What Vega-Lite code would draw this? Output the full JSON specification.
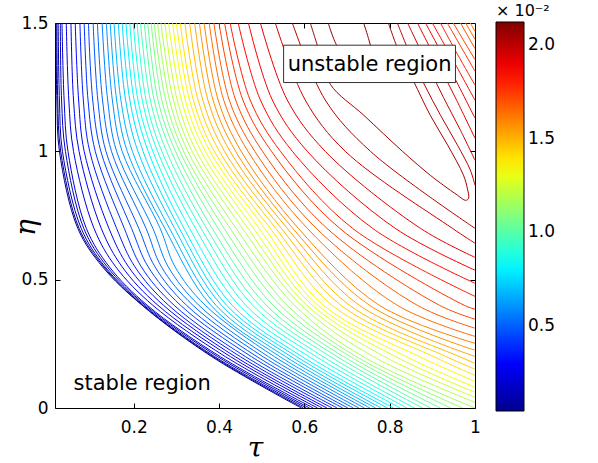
{
"$schema":"https://vega.github.io/schema/vega-lite/v6.json",
"autosize":"none","width":420,"height":385,
"padding":{"left":55,"top":23,"right":123,"bottom":55},
"background":"white",
"config":{"view":{"stroke":"black","strokeWidth":1},
"axis":{"labelFont":"DejaVu Sans","labelFontSize":17,"labelColor":"black","tickColor":"black","tickWidth":1,"domain":false,"grid":false,"labelFlush":false,"titleFont":"DejaVu Serif","titleFontStyle":"italic","titleFontWeight":"normal","titleFontSize":28,"titleColor":"black"}},
"resolve":{"axis":{"x":"independent","y":"independent"}},
"layer":[
{"data":{"values":[
{"line":1,"level":0.04,"k":1,"tau":0.018,"eta":1.5},{"line":1,"level":0.04,"k":2,"tau":0.020,"eta":1.2},{"line":1,"level":0.04,"k":3,"tau":0.026,"eta":1.0},{"line":1,"level":0.04,"k":4,"tau":0.069,"eta":0.7},{"line":1,"level":0.04,"k":5,"tau":0.127,"eta":0.55},{"line":1,"level":0.04,"k":6,"tau":0.220,"eta":0.4},{"line":1,"level":0.04,"k":7,"tau":0.383,"eta":0.2},{"line":1,"level":0.04,"k":8,"tau":0.593,"eta":0},
{"line":2,"level":0.08,"k":1,"tau":0.020,"eta":1.5},{"line":2,"level":0.08,"k":2,"tau":0.022,"eta":1.2},{"line":2,"level":0.08,"k":3,"tau":0.029,"eta":1.0},{"line":2,"level":0.08,"k":4,"tau":0.072,"eta":0.7},{"line":2,"level":0.08,"k":5,"tau":0.130,"eta":0.55},{"line":2,"level":0.08,"k":6,"tau":0.221,"eta":0.4},{"line":2,"level":0.08,"k":7,"tau":0.386,"eta":0.2},{"line":2,"level":0.08,"k":8,"tau":0.598,"eta":0},
{"line":3,"level":0.12,"k":1,"tau":0.023,"eta":1.5},{"line":3,"level":0.12,"k":2,"tau":0.026,"eta":1.2},{"line":3,"level":0.12,"k":3,"tau":0.033,"eta":1.0},{"line":3,"level":0.12,"k":4,"tau":0.077,"eta":0.7},{"line":3,"level":0.12,"k":5,"tau":0.133,"eta":0.55},{"line":3,"level":0.12,"k":6,"tau":0.224,"eta":0.4},{"line":3,"level":0.12,"k":7,"tau":0.390,"eta":0.2},{"line":3,"level":0.12,"k":8,"tau":0.605,"eta":0},
{"line":4,"level":0.16,"k":1,"tau":0.028,"eta":1.5},{"line":4,"level":0.16,"k":2,"tau":0.031,"eta":1.2},{"line":4,"level":0.16,"k":3,"tau":0.040,"eta":1.0},{"line":4,"level":0.16,"k":4,"tau":0.083,"eta":0.7},{"line":4,"level":0.16,"k":5,"tau":0.138,"eta":0.55},{"line":4,"level":0.16,"k":6,"tau":0.228,"eta":0.4},{"line":4,"level":0.16,"k":7,"tau":0.397,"eta":0.2},{"line":4,"level":0.16,"k":8,"tau":0.612,"eta":0},
{"line":5,"level":0.2,"k":1,"tau":0.032,"eta":1.5},{"line":5,"level":0.2,"k":2,"tau":0.037,"eta":1.2},{"line":5,"level":0.2,"k":3,"tau":0.046,"eta":1.0},{"line":5,"level":0.2,"k":4,"tau":0.089,"eta":0.7},{"line":5,"level":0.2,"k":5,"tau":0.143,"eta":0.55},{"line":5,"level":0.2,"k":6,"tau":0.232,"eta":0.4},{"line":5,"level":0.2,"k":7,"tau":0.403,"eta":0.2},{"line":5,"level":0.2,"k":8,"tau":0.621,"eta":0},
{"line":6,"level":0.24,"k":1,"tau":0.042,"eta":1.5},{"line":6,"level":0.24,"k":2,"tau":0.048,"eta":1.2},{"line":6,"level":0.24,"k":3,"tau":0.059,"eta":1.0},{"line":6,"level":0.24,"k":4,"tau":0.107,"eta":0.7},{"line":6,"level":0.24,"k":5,"tau":0.158,"eta":0.55},{"line":6,"level":0.24,"k":6,"tau":0.245,"eta":0.4},{"line":6,"level":0.24,"k":7,"tau":0.415,"eta":0.2},{"line":6,"level":0.24,"k":8,"tau":0.631,"eta":0},
{"line":7,"level":0.28,"k":1,"tau":0.053,"eta":1.5},{"line":7,"level":0.28,"k":2,"tau":0.059,"eta":1.2},{"line":7,"level":0.28,"k":3,"tau":0.072,"eta":1.0},{"line":7,"level":0.28,"k":4,"tau":0.124,"eta":0.7},{"line":7,"level":0.28,"k":5,"tau":0.173,"eta":0.55},{"line":7,"level":0.28,"k":6,"tau":0.257,"eta":0.4},{"line":7,"level":0.28,"k":7,"tau":0.427,"eta":0.2},{"line":7,"level":0.28,"k":8,"tau":0.642,"eta":0},
{"line":8,"level":0.32,"k":1,"tau":0.063,"eta":1.5},{"line":8,"level":0.32,"k":2,"tau":0.071,"eta":1.2},{"line":8,"level":0.32,"k":3,"tau":0.084,"eta":1.0},{"line":8,"level":0.32,"k":4,"tau":0.142,"eta":0.7},{"line":8,"level":0.32,"k":5,"tau":0.188,"eta":0.55},{"line":8,"level":0.32,"k":6,"tau":0.270,"eta":0.4},{"line":8,"level":0.32,"k":7,"tau":0.438,"eta":0.2},{"line":8,"level":0.32,"k":8,"tau":0.653,"eta":0},
{"line":9,"level":0.36,"k":1,"tau":0.074,"eta":1.5},{"line":9,"level":0.36,"k":2,"tau":0.082,"eta":1.2},{"line":9,"level":0.36,"k":3,"tau":0.097,"eta":1.0},{"line":9,"level":0.36,"k":4,"tau":0.160,"eta":0.7},{"line":9,"level":0.36,"k":5,"tau":0.203,"eta":0.55},{"line":9,"level":0.36,"k":6,"tau":0.282,"eta":0.4},{"line":9,"level":0.36,"k":7,"tau":0.450,"eta":0.2},{"line":9,"level":0.36,"k":8,"tau":0.665,"eta":0},
{"line":10,"level":0.4,"k":1,"tau":0.084,"eta":1.5},{"line":10,"level":0.4,"k":2,"tau":0.093,"eta":1.2},{"line":10,"level":0.4,"k":3,"tau":0.110,"eta":1.0},{"line":10,"level":0.4,"k":4,"tau":0.178,"eta":0.7},{"line":10,"level":0.4,"k":5,"tau":0.218,"eta":0.55},{"line":10,"level":0.4,"k":6,"tau":0.295,"eta":0.4},{"line":10,"level":0.4,"k":7,"tau":0.462,"eta":0.2},{"line":10,"level":0.4,"k":8,"tau":0.677,"eta":0},
{"line":11,"level":0.44,"k":1,"tau":0.094,"eta":1.5},{"line":11,"level":0.44,"k":2,"tau":0.104,"eta":1.2},{"line":11,"level":0.44,"k":3,"tau":0.123,"eta":1.0},{"line":11,"level":0.44,"k":4,"tau":0.195,"eta":0.7},{"line":11,"level":0.44,"k":5,"tau":0.234,"eta":0.55},{"line":11,"level":0.44,"k":6,"tau":0.310,"eta":0.4},{"line":11,"level":0.44,"k":7,"tau":0.476,"eta":0.2},{"line":11,"level":0.44,"k":8,"tau":0.690,"eta":0},
{"line":12,"level":0.48,"k":1,"tau":0.105,"eta":1.5},{"line":12,"level":0.48,"k":2,"tau":0.116,"eta":1.2},{"line":12,"level":0.48,"k":3,"tau":0.135,"eta":1.0},{"line":12,"level":0.48,"k":4,"tau":0.212,"eta":0.7},{"line":12,"level":0.48,"k":5,"tau":0.250,"eta":0.55},{"line":12,"level":0.48,"k":6,"tau":0.324,"eta":0.4},{"line":12,"level":0.48,"k":7,"tau":0.489,"eta":0.2},{"line":12,"level":0.48,"k":8,"tau":0.702,"eta":0},
{"line":13,"level":0.52,"k":1,"tau":0.115,"eta":1.5},{"line":13,"level":0.52,"k":2,"tau":0.127,"eta":1.2},{"line":13,"level":0.52,"k":3,"tau":0.148,"eta":1.0},{"line":13,"level":0.52,"k":4,"tau":0.229,"eta":0.7},{"line":13,"level":0.52,"k":5,"tau":0.265,"eta":0.55},{"line":13,"level":0.52,"k":6,"tau":0.339,"eta":0.4},{"line":13,"level":0.52,"k":7,"tau":0.503,"eta":0.2},{"line":13,"level":0.52,"k":8,"tau":0.715,"eta":0},
{"line":14,"level":0.56,"k":1,"tau":0.126,"eta":1.5},{"line":14,"level":0.56,"k":2,"tau":0.139,"eta":1.2},{"line":14,"level":0.56,"k":3,"tau":0.160,"eta":1.0},{"line":14,"level":0.56,"k":4,"tau":0.245,"eta":0.7},{"line":14,"level":0.56,"k":5,"tau":0.281,"eta":0.55},{"line":14,"level":0.56,"k":6,"tau":0.353,"eta":0.4},{"line":14,"level":0.56,"k":7,"tau":0.516,"eta":0.2},{"line":14,"level":0.56,"k":8,"tau":0.728,"eta":0},
{"line":15,"level":0.6,"k":1,"tau":0.136,"eta":1.5},{"line":15,"level":0.6,"k":2,"tau":0.150,"eta":1.2},{"line":15,"level":0.6,"k":3,"tau":0.173,"eta":1.0},{"line":15,"level":0.6,"k":4,"tau":0.262,"eta":0.7},{"line":15,"level":0.6,"k":5,"tau":0.297,"eta":0.55},{"line":15,"level":0.6,"k":6,"tau":0.368,"eta":0.4},{"line":15,"level":0.6,"k":7,"tau":0.530,"eta":0.2},{"line":15,"level":0.6,"k":8,"tau":0.741,"eta":0},
{"line":16,"level":0.64,"k":1,"tau":0.145,"eta":1.5},{"line":16,"level":0.64,"k":2,"tau":0.160,"eta":1.2},{"line":16,"level":0.64,"k":3,"tau":0.185,"eta":1.0},{"line":16,"level":0.64,"k":4,"tau":0.273,"eta":0.7},{"line":16,"level":0.64,"k":5,"tau":0.381,"eta":0.4},{"line":16,"level":0.64,"k":6,"tau":0.543,"eta":0.2},{"line":16,"level":0.64,"k":7,"tau":0.754,"eta":0},
{"line":17,"level":0.68,"k":1,"tau":0.154,"eta":1.5},{"line":17,"level":0.68,"k":2,"tau":0.170,"eta":1.2},{"line":17,"level":0.68,"k":3,"tau":0.197,"eta":1.0},{"line":17,"level":0.68,"k":4,"tau":0.284,"eta":0.7},{"line":17,"level":0.68,"k":5,"tau":0.393,"eta":0.4},{"line":17,"level":0.68,"k":6,"tau":0.556,"eta":0.2},{"line":17,"level":0.68,"k":7,"tau":0.767,"eta":0},
{"line":18,"level":0.72,"k":1,"tau":0.164,"eta":1.5},{"line":18,"level":0.72,"k":2,"tau":0.181,"eta":1.2},{"line":18,"level":0.72,"k":3,"tau":0.210,"eta":1.0},{"line":18,"level":0.72,"k":4,"tau":0.296,"eta":0.7},{"line":18,"level":0.72,"k":5,"tau":0.406,"eta":0.4},{"line":18,"level":0.72,"k":6,"tau":0.569,"eta":0.2},{"line":18,"level":0.72,"k":7,"tau":0.780,"eta":0},
{"line":19,"level":0.76,"k":1,"tau":0.173,"eta":1.5},{"line":19,"level":0.76,"k":2,"tau":0.191,"eta":1.2},{"line":19,"level":0.76,"k":3,"tau":0.222,"eta":1.0},{"line":19,"level":0.76,"k":4,"tau":0.307,"eta":0.7},{"line":19,"level":0.76,"k":5,"tau":0.418,"eta":0.4},{"line":19,"level":0.76,"k":6,"tau":0.582,"eta":0.2},{"line":19,"level":0.76,"k":7,"tau":0.795,"eta":0},
{"line":20,"level":0.8,"k":1,"tau":0.182,"eta":1.5},{"line":20,"level":0.8,"k":2,"tau":0.201,"eta":1.2},{"line":20,"level":0.8,"k":3,"tau":0.234,"eta":1.0},{"line":20,"level":0.8,"k":4,"tau":0.318,"eta":0.7},{"line":20,"level":0.8,"k":5,"tau":0.431,"eta":0.4},{"line":20,"level":0.8,"k":6,"tau":0.595,"eta":0.2},{"line":20,"level":0.8,"k":7,"tau":0.809,"eta":0},
{"line":21,"level":0.84,"k":1,"tau":0.191,"eta":1.5},{"line":21,"level":0.84,"k":2,"tau":0.210,"eta":1.2},{"line":21,"level":0.84,"k":3,"tau":0.245,"eta":1.0},{"line":21,"level":0.84,"k":4,"tau":0.331,"eta":0.7},{"line":21,"level":0.84,"k":5,"tau":0.447,"eta":0.4},{"line":21,"level":0.84,"k":6,"tau":0.611,"eta":0.2},{"line":21,"level":0.84,"k":7,"tau":0.825,"eta":0},
{"line":22,"level":0.88,"k":1,"tau":0.199,"eta":1.5},{"line":22,"level":0.88,"k":2,"tau":0.220,"eta":1.2},{"line":22,"level":0.88,"k":3,"tau":0.256,"eta":1.0},{"line":22,"level":0.88,"k":4,"tau":0.345,"eta":0.7},{"line":22,"level":0.88,"k":5,"tau":0.463,"eta":0.4},{"line":22,"level":0.88,"k":6,"tau":0.628,"eta":0.2},{"line":22,"level":0.88,"k":7,"tau":0.841,"eta":0},
{"line":23,"level":0.92,"k":1,"tau":0.208,"eta":1.5},{"line":23,"level":0.92,"k":2,"tau":0.229,"eta":1.2},{"line":23,"level":0.92,"k":3,"tau":0.266,"eta":1.0},{"line":23,"level":0.92,"k":4,"tau":0.358,"eta":0.7},{"line":23,"level":0.92,"k":5,"tau":0.479,"eta":0.4},{"line":23,"level":0.92,"k":6,"tau":0.644,"eta":0.2},{"line":23,"level":0.92,"k":7,"tau":0.858,"eta":0},
{"line":24,"level":0.96,"k":1,"tau":0.216,"eta":1.5},{"line":24,"level":0.96,"k":2,"tau":0.239,"eta":1.2},{"line":24,"level":0.96,"k":3,"tau":0.277,"eta":1.0},{"line":24,"level":0.96,"k":4,"tau":0.371,"eta":0.7},{"line":24,"level":0.96,"k":5,"tau":0.495,"eta":0.4},{"line":24,"level":0.96,"k":6,"tau":0.661,"eta":0.2},{"line":24,"level":0.96,"k":7,"tau":0.877,"eta":0},
{"line":25,"level":1.0,"k":1,"tau":0.225,"eta":1.5},{"line":25,"level":1.0,"k":2,"tau":0.248,"eta":1.2},{"line":25,"level":1.0,"k":3,"tau":0.288,"eta":1.0},{"line":25,"level":1.0,"k":4,"tau":0.384,"eta":0.7},{"line":25,"level":1.0,"k":5,"tau":0.511,"eta":0.4},{"line":25,"level":1.0,"k":6,"tau":0.677,"eta":0.2},{"line":25,"level":1.0,"k":7,"tau":0.896,"eta":0},
{"line":26,"level":1.04,"k":1,"tau":0.233,"eta":1.5},{"line":26,"level":1.04,"k":2,"tau":0.257,"eta":1.2},{"line":26,"level":1.04,"k":3,"tau":0.298,"eta":1.0},{"line":26,"level":1.04,"k":4,"tau":0.398,"eta":0.7},{"line":26,"level":1.04,"k":5,"tau":0.527,"eta":0.4},{"line":26,"level":1.04,"k":6,"tau":0.692,"eta":0.2},{"line":26,"level":1.04,"k":7,"tau":0.919,"eta":0},
{"line":27,"level":1.08,"k":1,"tau":0.241,"eta":1.5},{"line":27,"level":1.08,"k":2,"tau":0.266,"eta":1.2},{"line":27,"level":1.08,"k":3,"tau":0.308,"eta":1.0},{"line":27,"level":1.08,"k":4,"tau":0.412,"eta":0.7},{"line":27,"level":1.08,"k":5,"tau":0.544,"eta":0.4},{"line":27,"level":1.08,"k":6,"tau":0.708,"eta":0.2},{"line":27,"level":1.08,"k":7,"tau":0.943,"eta":0},
{"line":28,"level":1.12,"k":1,"tau":0.248,"eta":1.5},{"line":28,"level":1.12,"k":2,"tau":0.275,"eta":1.2},{"line":28,"level":1.12,"k":3,"tau":0.317,"eta":1.0},{"line":28,"level":1.12,"k":4,"tau":0.426,"eta":0.7},{"line":28,"level":1.12,"k":5,"tau":0.560,"eta":0.4},{"line":28,"level":1.12,"k":6,"tau":0.722,"eta":0.2},{"line":28,"level":1.12,"k":7,"tau":0.971,"eta":0},
{"line":29,"level":1.16,"k":1,"tau":0.256,"eta":1.5},{"line":29,"level":1.16,"k":2,"tau":0.284,"eta":1.2},{"line":29,"level":1.16,"k":3,"tau":0.327,"eta":1.0},{"line":29,"level":1.16,"k":4,"tau":0.440,"eta":0.7},{"line":29,"level":1.16,"k":5,"tau":0.577,"eta":0.4},{"line":29,"level":1.16,"k":6,"tau":0.738,"eta":0.2},{"line":29,"level":1.16,"k":7,"tau":1.0,"eta":0},
{"line":30,"level":1.2,"k":1,"tau":0.264,"eta":1.5},{"line":30,"level":1.2,"k":2,"tau":0.293,"eta":1.2},{"line":30,"level":1.2,"k":3,"tau":0.337,"eta":1.0},{"line":30,"level":1.2,"k":4,"tau":0.455,"eta":0.7},{"line":30,"level":1.2,"k":5,"tau":0.593,"eta":0.4},{"line":30,"level":1.2,"k":6,"tau":0.762,"eta":0.2},{"line":30,"level":1.2,"k":7,"tau":1.0,"eta":0.022},
{"line":31,"level":1.24,"k":1,"tau":0.273,"eta":1.5},{"line":31,"level":1.24,"k":2,"tau":0.302,"eta":1.2},{"line":31,"level":1.24,"k":3,"tau":0.347,"eta":1.0},{"line":31,"level":1.24,"k":4,"tau":0.468,"eta":0.7},{"line":31,"level":1.24,"k":5,"tau":0.606,"eta":0.4},{"line":31,"level":1.24,"k":6,"tau":0.788,"eta":0.2},{"line":31,"level":1.24,"k":7,"tau":1.0,"eta":0.042},
{"line":32,"level":1.28,"k":1,"tau":0.282,"eta":1.5},{"line":32,"level":1.28,"k":2,"tau":0.312,"eta":1.2},{"line":32,"level":1.28,"k":3,"tau":0.358,"eta":1.0},{"line":32,"level":1.28,"k":4,"tau":0.481,"eta":0.7},{"line":32,"level":1.28,"k":5,"tau":0.619,"eta":0.4},{"line":32,"level":1.28,"k":6,"tau":0.814,"eta":0.2},{"line":32,"level":1.28,"k":7,"tau":1.0,"eta":0.061},
{"line":33,"level":1.32,"k":1,"tau":0.291,"eta":1.5},{"line":33,"level":1.32,"k":2,"tau":0.321,"eta":1.2},{"line":33,"level":1.32,"k":3,"tau":0.368,"eta":1.0},{"line":33,"level":1.32,"k":4,"tau":0.494,"eta":0.7},{"line":33,"level":1.32,"k":5,"tau":0.632,"eta":0.4},{"line":33,"level":1.32,"k":6,"tau":0.839,"eta":0.2},{"line":33,"level":1.32,"k":7,"tau":1.0,"eta":0.081},
{"line":34,"level":1.36,"k":1,"tau":0.300,"eta":1.5},{"line":34,"level":1.36,"k":2,"tau":0.331,"eta":1.2},{"line":34,"level":1.36,"k":3,"tau":0.379,"eta":1.0},{"line":34,"level":1.36,"k":4,"tau":0.507,"eta":0.7},{"line":34,"level":1.36,"k":5,"tau":0.645,"eta":0.4},{"line":34,"level":1.36,"k":6,"tau":0.870,"eta":0.2},{"line":34,"level":1.36,"k":7,"tau":1.0,"eta":0.104},
{"line":35,"level":1.4,"k":1,"tau":0.309,"eta":1.5},{"line":35,"level":1.4,"k":2,"tau":0.340,"eta":1.2},{"line":35,"level":1.4,"k":3,"tau":0.389,"eta":1.0},{"line":35,"level":1.4,"k":4,"tau":0.520,"eta":0.7},{"line":35,"level":1.4,"k":5,"tau":0.665,"eta":0.4},{"line":35,"level":1.4,"k":6,"tau":0.903,"eta":0.2},{"line":35,"level":1.4,"k":7,"tau":1.0,"eta":0.127},
{"line":36,"level":1.44,"k":1,"tau":0.320,"eta":1.5},{"line":36,"level":1.44,"k":2,"tau":0.351,"eta":1.2},{"line":36,"level":1.44,"k":3,"tau":0.401,"eta":1.0},{"line":36,"level":1.44,"k":4,"tau":0.533,"eta":0.7},{"line":36,"level":1.44,"k":5,"tau":0.686,"eta":0.4},{"line":36,"level":1.44,"k":6,"tau":0.933,"eta":0.2},{"line":36,"level":1.44,"k":7,"tau":1.0,"eta":0.151},
{"line":37,"level":1.48,"k":1,"tau":0.331,"eta":1.5},{"line":37,"level":1.48,"k":2,"tau":0.362,"eta":1.2},{"line":37,"level":1.48,"k":3,"tau":0.413,"eta":1.0},{"line":37,"level":1.48,"k":4,"tau":0.546,"eta":0.7},{"line":37,"level":1.48,"k":5,"tau":0.706,"eta":0.4},{"line":37,"level":1.48,"k":6,"tau":0.964,"eta":0.2},{"line":37,"level":1.48,"k":7,"tau":1.0,"eta":0.174},
{"line":38,"level":1.52,"k":1,"tau":0.343,"eta":1.5},{"line":38,"level":1.52,"k":2,"tau":0.374,"eta":1.2},{"line":38,"level":1.52,"k":3,"tau":0.426,"eta":1.0},{"line":38,"level":1.52,"k":4,"tau":0.560,"eta":0.7},{"line":38,"level":1.52,"k":5,"tau":0.729,"eta":0.4},{"line":38,"level":1.52,"k":6,"tau":1.0,"eta":0.201},
{"line":39,"level":1.56,"k":1,"tau":0.354,"eta":1.5},{"line":39,"level":1.56,"k":2,"tau":0.386,"eta":1.2},{"line":39,"level":1.56,"k":3,"tau":0.439,"eta":1.0},{"line":39,"level":1.56,"k":4,"tau":0.573,"eta":0.7},{"line":39,"level":1.56,"k":5,"tau":0.753,"eta":0.4},{"line":39,"level":1.56,"k":6,"tau":1.0,"eta":0.225},
{"line":40,"level":1.6,"k":1,"tau":0.365,"eta":1.5},{"line":40,"level":1.6,"k":2,"tau":0.398,"eta":1.2},{"line":40,"level":1.6,"k":3,"tau":0.452,"eta":1.0},{"line":40,"level":1.6,"k":4,"tau":0.586,"eta":0.7},{"line":40,"level":1.6,"k":5,"tau":0.776,"eta":0.4},{"line":40,"level":1.6,"k":6,"tau":1.0,"eta":0.252},
{"line":41,"level":1.64,"k":1,"tau":0.377,"eta":1.5},{"line":41,"level":1.64,"k":2,"tau":0.411,"eta":1.2},{"line":41,"level":1.64,"k":3,"tau":0.468,"eta":1.0},{"line":41,"level":1.64,"k":4,"tau":0.607,"eta":0.7},{"line":41,"level":1.64,"k":5,"tau":0.818,"eta":0.4},{"line":41,"level":1.64,"k":6,"tau":1.0,"eta":0.279},
{"line":42,"level":1.68,"k":1,"tau":0.388,"eta":1.5},{"line":42,"level":1.68,"k":2,"tau":0.424,"eta":1.2},{"line":42,"level":1.68,"k":3,"tau":0.484,"eta":1.0},{"line":42,"level":1.68,"k":4,"tau":0.628,"eta":0.7},{"line":42,"level":1.68,"k":5,"tau":0.865,"eta":0.4},{"line":42,"level":1.68,"k":6,"tau":1.0,"eta":0.311},
{"line":43,"level":1.72,"k":1,"tau":0.400,"eta":1.5},{"line":43,"level":1.72,"k":2,"tau":0.439,"eta":1.2},{"line":43,"level":1.72,"k":3,"tau":0.502,"eta":1.0},{"line":43,"level":1.72,"k":4,"tau":0.653,"eta":0.7},{"line":43,"level":1.72,"k":5,"tau":0.917,"eta":0.4},{"line":43,"level":1.72,"k":6,"tau":1.0,"eta":0.346},
{"line":44,"level":1.76,"k":1,"tau":0.413,"eta":1.5},{"line":44,"level":1.76,"k":2,"tau":0.456,"eta":1.2},{"line":44,"level":1.76,"k":3,"tau":0.523,"eta":1.0},{"line":44,"level":1.76,"k":4,"tau":0.683,"eta":0.7},{"line":44,"level":1.76,"k":5,"tau":0.975,"eta":0.4},{"line":44,"level":1.76,"k":6,"tau":1.0,"eta":0.385},
{"line":45,"level":1.8,"k":1,"tau":0.426,"eta":1.5},{"line":45,"level":1.8,"k":2,"tau":0.473,"eta":1.2},{"line":45,"level":1.8,"k":3,"tau":0.544,"eta":1.0},{"line":45,"level":1.8,"k":4,"tau":0.713,"eta":0.7},{"line":45,"level":1.8,"k":5,"tau":1.0,"eta":0.435},
{"line":46,"level":1.84,"k":1,"tau":0.445,"eta":1.5},{"line":46,"level":1.84,"k":2,"tau":0.497,"eta":1.2},{"line":46,"level":1.84,"k":3,"tau":0.572,"eta":1.0},{"line":46,"level":1.84,"k":4,"tau":0.760,"eta":0.7},{"line":46,"level":1.84,"k":5,"tau":1.0,"eta":0.486},
{"line":47,"level":1.88,"k":1,"tau":0.469,"eta":1.5},{"line":47,"level":1.88,"k":2,"tau":0.525,"eta":1.2},{"line":47,"level":1.88,"k":3,"tau":0.607,"eta":1.0},{"line":47,"level":1.88,"k":4,"tau":0.813,"eta":0.7},{"line":47,"level":1.88,"k":5,"tau":1.0,"eta":0.537},
{"line":48,"level":1.92,"k":1,"tau":0.497,"eta":1.5},{"line":48,"level":1.92,"k":2,"tau":0.560,"eta":1.2},{"line":48,"level":1.92,"k":3,"tau":0.649,"eta":1.0},{"line":48,"level":1.92,"k":4,"tau":0.872,"eta":0.7},{"line":48,"level":1.92,"k":5,"tau":1.0,"eta":0.587},
{"line":49,"level":1.96,"k":1,"tau":0.532,"eta":1.5},{"line":49,"level":1.96,"k":2,"tau":0.602,"eta":1.2},{"line":49,"level":1.96,"k":3,"tau":0.696,"eta":1.0},{"line":49,"level":1.96,"k":4,"tau":0.947,"eta":0.7},{"line":49,"level":1.96,"k":5,"tau":1.0,"eta":0.642},
{"line":50,"level":2.0,"k":1,"tau":0.572,"eta":1.5},{"line":50,"level":2.0,"k":2,"tau":0.649,"eta":1.2},{"line":50,"level":2.0,"k":3,"tau":0.755,"eta":1.0},{"line":50,"level":2.0,"k":4,"tau":1.0,"eta":0.700},
{"line":101,"level":2.0,"k":1,"tau":0.818,"eta":1.5},{"line":101,"level":2.0,"k":2,"tau":0.849,"eta":1.374},{"line":101,"level":2.0,"k":3,"tau":0.882,"eta":1.258},{"line":101,"level":2.0,"k":4,"tau":0.919,"eta":1.141},{"line":101,"level":2.0,"k":5,"tau":0.959,"eta":1.024},{"line":101,"level":2.0,"k":6,"tau":0.989,"eta":0.927},{"line":101,"level":2.0,"k":7,"tau":1.0,"eta":0.868},
{"line":102,"level":1.96,"k":1,"tau":0.842,"eta":1.5},{"line":102,"level":1.96,"k":2,"tau":0.884,"eta":1.354},{"line":102,"level":1.96,"k":3,"tau":0.926,"eta":1.210},{"line":102,"level":1.96,"k":4,"tau":0.966,"eta":1.082},{"line":102,"level":1.96,"k":5,"tau":1.0,"eta":0.965},
{"line":103,"level":1.92,"k":1,"tau":0.865,"eta":1.5},{"line":103,"level":1.92,"k":2,"tau":0.912,"eta":1.347},{"line":103,"level":1.92,"k":3,"tau":0.957,"eta":1.199},{"line":103,"level":1.92,"k":4,"tau":1.0,"eta":1.051},
{"line":104,"level":1.88,"k":1,"tau":0.884,"eta":1.5},{"line":104,"level":1.88,"k":2,"tau":0.943,"eta":1.316},{"line":104,"level":1.88,"k":3,"tau":1.0,"eta":1.129},
{"line":105,"level":1.84,"k":1,"tau":0.900,"eta":1.5},{"line":105,"level":1.84,"k":2,"tau":0.950,"eta":1.351},{"line":105,"level":1.84,"k":3,"tau":1.0,"eta":1.199},
{"line":106,"level":1.8,"k":1,"tau":0.919,"eta":1.5},{"line":106,"level":1.8,"k":2,"tau":0.959,"eta":1.378},{"line":106,"level":1.8,"k":3,"tau":1.0,"eta":1.258},
{"line":107,"level":1.76,"k":1,"tau":0.935,"eta":1.5},{"line":107,"level":1.76,"k":2,"tau":0.968,"eta":1.405},{"line":107,"level":1.76,"k":3,"tau":1.0,"eta":1.312},
{"line":108,"level":1.72,"k":1,"tau":0.949,"eta":1.5},{"line":108,"level":1.72,"k":2,"tau":1.0,"eta":1.357},
{"line":109,"level":1.68,"k":1,"tau":0.966,"eta":1.5},{"line":109,"level":1.68,"k":2,"tau":1.0,"eta":1.400},
{"line":110,"level":1.64,"k":1,"tau":0.978,"eta":1.5},{"line":110,"level":1.64,"k":2,"tau":1.0,"eta":1.436},
{"line":111,"level":1.6,"k":1,"tau":0.989,"eta":1.5},{"line":111,"level":1.6,"k":2,"tau":1.0,"eta":1.467},
{"line":201,"level":2.04,"k":1,"tau":0.614,"eta":1.5},{"line":201,"level":2.04,"k":2,"tau":0.633,"eta":1.40},{"line":201,"level":2.04,"k":3,"tau":0.661,"eta":1.261},{"line":201,"level":2.04,"k":4,"tau":0.739,"eta":1.141},{"line":201,"level":2.04,"k":5,"tau":0.830,"eta":1.0},{"line":201,"level":2.04,"k":6,"tau":0.895,"eta":0.907},{"line":201,"level":2.04,"k":7,"tau":0.926,"eta":0.868},{"line":201,"level":2.04,"k":8,"tau":0.959,"eta":0.829},{"line":201,"level":2.04,"k":9,"tau":0.978,"eta":0.809},{"line":201,"level":2.04,"k":10,"tau":0.985,"eta":0.817},{"line":201,"level":2.04,"k":11,"tau":0.982,"eta":0.856},{"line":201,"level":2.04,"k":12,"tau":0.973,"eta":0.907},{"line":201,"level":2.04,"k":13,"tau":0.936,"eta":1.024},{"line":201,"level":2.04,"k":14,"tau":0.895,"eta":1.141},{"line":201,"level":2.04,"k":15,"tau":0.856,"eta":1.273},{"line":201,"level":2.04,"k":16,"tau":0.825,"eta":1.374},{"line":201,"level":2.04,"k":17,"tau":0.797,"eta":1.5},
{"line":202,"level":2.08,"k":1,"tau":0.656,"eta":1.5},{"line":202,"level":2.08,"k":2,"tau":0.680,"eta":1.40},{"line":202,"level":2.08,"k":3,"tau":0.720,"eta":1.33},{"line":202,"level":2.08,"k":4,"tau":0.757,"eta":1.31},{"line":202,"level":2.08,"k":5,"tau":0.763,"eta":1.35},{"line":202,"level":2.08,"k":6,"tau":0.752,"eta":1.43},{"line":202,"level":2.08,"k":7,"tau":0.739,"eta":1.5}
]},
"mark":{"type":"line","interpolate":"catmull-rom","strokeWidth":1,"clip":true},
"encoding":{
"x":{"field":"tau","type":"quantitative","scale":{"domain":[0.0156,1],"nice":false,"zero":false},"axis":{"orient":"bottom","values":[0.2,0.4,0.6,0.8,1],"format":"~g","labelFontSize":17,"tickSize":-5,"labelPadding":16,"title":"τ","titleX":200,"titleY":48,"titleBaseline":"alphabetic"}},
"y":{"field":"eta","type":"quantitative","scale":{"domain":[0,1.5],"nice":false,"zero":false},"axis":{"orient":"left","values":[0,0.5,1,1.5],"format":"~g","labelFontSize":17,"tickSize":-5,"labelPadding":12,"title":"η","titleX":-15,"titleY":204,"titleBaseline":"bottom"}},
"color":{"field":"level","type":"quantitative","scale":{"type":"linear","domain":[0.05,0.309,0.826,1.344,1.861,2.12],"range":["#00008f","#0000ff","#00ffff","#ffff00","#ff0000","#800000"],"interpolate":"rgb","clamp":true},
"legend":{"orient":"none","legendX":441,"legendY":-20,"direction":"vertical","gradientLength":389,"gradientThickness":28,"gradientStrokeColor":"black","gradientStrokeWidth":1,"values":[0.5,1,1.5,2],"format":".1f","labelFont":"DejaVu Sans","labelFontSize":17,"labelColor":"black","labelOffset":4,"title":"\u00a0\u00a0\u00a0\u00a0\u00a0\u00a0\u00a0\u00a0× 10⁻²","titleFont":"DejaVu Sans","titleFontSize":16,"titleFontWeight":"normal","titleColor":"black","titlePadding":3,"padding":0}},
"detail":{"field":"line","type":"nominal"},
"order":{"field":"k","type":"quantitative"}}},
{"data":{"values":[{"t1":0.5514,"t2":0.9542,"e1":1.268,"e2":1.4135}]},
"mark":{"type":"rect","fill":"white","stroke":"#333333","strokeWidth":1},
"encoding":{
"x":{"field":"t1","type":"quantitative","axis":{"orient":"top","values":[0.2,0.4,0.6,0.8],"labels":false,"tickSize":-5,"title":null}},
"x2":{"field":"t2"},
"y":{"field":"e1","type":"quantitative","axis":{"orient":"right","values":[0.5,1],"labels":false,"tickSize":-5,"title":null}},
"y2":{"field":"e2"}}},
{"data":{"values":[{"label":"unstable region","tau":0.753,"eta":1.338}]},
"mark":{"type":"text","font":"DejaVu Sans","fontSize":21,"color":"black","align":"center","baseline":"middle"},
"encoding":{"x":{"field":"tau","type":"quantitative","axis":null},"y":{"field":"eta","type":"quantitative","axis":null},"text":{"field":"label"}}},
{"data":{"values":[{"label":"stable region","tau":0.059,"eta":0.069}]},
"mark":{"type":"text","font":"DejaVu Sans","fontSize":21,"color":"black","align":"left","baseline":"alphabetic"},
"encoding":{"x":{"field":"tau","type":"quantitative","axis":null},"y":{"field":"eta","type":"quantitative","axis":null},"text":{"field":"label"}}}
]
}
